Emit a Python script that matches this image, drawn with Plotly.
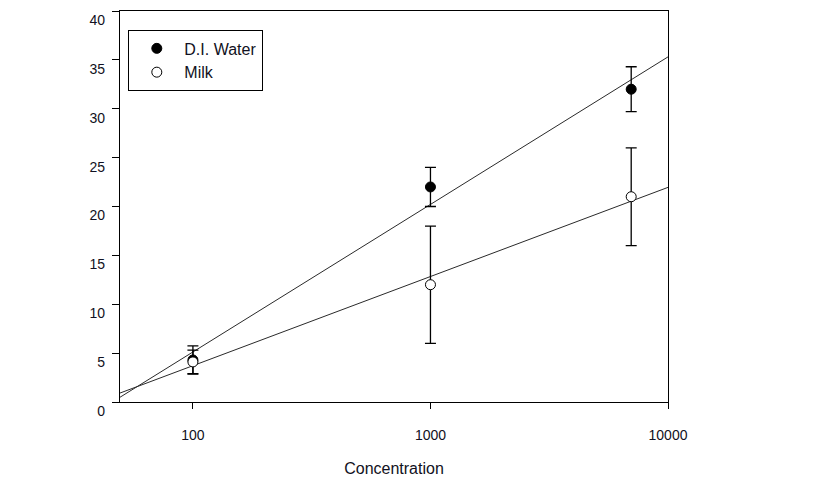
import numpy as np
import plotly.graph_objects as go

# ---- data ----
concentration = [100, 1000, 7000]
water_mean = [4.3, 22.0, 32.0]
water_err = [1.45, 2.0, 2.3]
milk_mean = [4.1, 12.0, 21.0]
milk_err = [1.2, 6.0, 5.0]
series_names = ["D.I. Water", "Milk"]
x_tick_vals = [100, 1000, 10000]
x_tick_text = ["100", "1000", "10000"]
y_tick_vals = [0, 5, 10, 15, 20, 25, 30, 35, 40]
x_title = "Concentration"

x_range_log = [1.693, 4.0]
y_range = [0, 40.001]

FONT = "Liberation Sans, Arial, sans-serif"
TXT = "#111122"

fig = go.Figure()

# least-squares regression lines in log10(concentration)
lx = np.log10(concentration)
x_line = np.array([10 ** x_range_log[0], 10 ** x_range_log[1]])
for ys in (water_mean, milk_mean):
    b, a = np.polyfit(lx, ys, 1)
    fig.add_trace(go.Scatter(
        x=x_line, y=a + b * np.log10(x_line), mode="lines",
        line=dict(color="#2a2a2a", width=1), showlegend=False, hoverinfo="skip"))

fig.add_trace(go.Scatter(
    x=concentration, y=water_mean, mode="markers", name=series_names[0],
    marker=dict(symbol="circle", size=10, color="black", line=dict(color="black", width=1)),
    error_y=dict(type="data", array=water_err, visible=True, color="black", thickness=1.3, width=5.5)))
fig.add_trace(go.Scatter(
    x=concentration, y=milk_mean, mode="markers", name=series_names[1],
    marker=dict(symbol="circle", size=10, color="white", line=dict(color="black", width=1)),
    error_y=dict(type="data", array=milk_err, visible=True, color="black", thickness=1.3, width=5.5)))

# the page body adds an 8px offset, so margins are reduced accordingly
fig.update_layout(
    width=816, height=486,
    margin=dict(l=112, r=156, t=3, b=92, autoexpand=False),
    paper_bgcolor="white", plot_bgcolor="white",
    font=dict(family=FONT, size=14, color=TXT),
    showlegend=True,
    legend=dict(x=0.0146, y=0.951, xanchor="left", yanchor="top",
                bgcolor="white", bordercolor="black", borderwidth=1.3,
                font=dict(family=FONT, size=16, color=TXT),
                itemwidth=45, entrywidth=80, tracegroupgap=0),
)
fig.update_xaxes(
    type="log", range=x_range_log, tickvals=x_tick_vals, ticktext=x_tick_text,
    showgrid=False, zeroline=False, showline=True, linecolor="black", linewidth=1.3,
    mirror=True, ticks="outside", ticklen=6, tickwidth=1.3, tickcolor="black",
    ticklabelstandoff=14,
    tickfont=dict(family=FONT, size=14, color=TXT),
    title=dict(text=x_title, font=dict(family=FONT, size=16, color=TXT), standoff=20),
)
fig.update_yaxes(
    range=y_range, tickvals=y_tick_vals,
    showgrid=False, zeroline=False, showline=True, linecolor="black", linewidth=1.3,
    mirror=True, ticks="outside", ticklen=7, tickwidth=1.3, tickcolor="black",
    ticklabelshift=9, ticklabelstandoff=4,
    tickfont=dict(family=FONT, size=14, color=TXT),
)

fig.write_html("out.html")
